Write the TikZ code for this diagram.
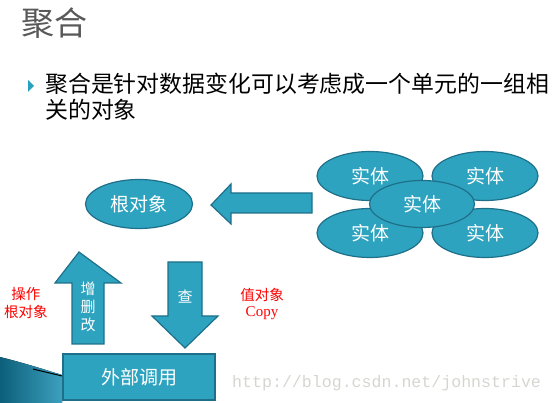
\documentclass[tikz,border=0pt]{standalone}
\usepackage{fontspec}
\setmainfont{Liberation Serif}
\newfontfamily\cjk{Noto Sans CJK SC}
\newfontfamily\cour{Liberation Mono}
\usetikzlibrary{shapes.geometric}
\definecolor{tealfill}{RGB}{46,163,191}
\definecolor{tealline}{RGB}{30,112,138}
\definecolor{titlegrey}{RGB}{89,89,89}
\definecolor{swdark}{RGB}{12,95,122}
\definecolor{swlight}{RGB}{60,160,190}
\definecolor{wmgrey}{RGB}{214,214,208}
\definecolor{bullet}{RGB}{40,160,190}
\begin{document}
\begin{tikzpicture}[x=1pt,y=-1pt,
  ent/.style={ellipse, draw=tealline, fill=tealfill, line width=1.2pt,
    minimum width=106pt, minimum height=49pt, inner sep=0pt,
    font=\cjk\fontsize{19}{19}\selectfont, text=white},
  arrowshape/.style={draw=tealline, fill=tealfill, line width=1.2pt, line join=miter},
  wtext/.style={text=white, inner sep=0pt, align=center},
  redlabel/.style={text=red, inner sep=0pt, align=center}]
\useasboundingbox (0,0) rectangle (555,403);
% bottom-left swoosh
\fill[left color=swdark, right color=swlight] (0,357) .. controls (20,362) and (40,368) .. (62,375) -- (62,403) -- (0,403) -- cycle;
\draw[black, line width=1pt] (33,369) .. controls (45,372) and (54,374) .. (62,376);
% title
\node[anchor=west, inner sep=0pt, text=titlegrey, font=\cjk\fontsize{33}{33}\selectfont] (title) at (21,23) {聚合};
% bullet
\fill[bullet] (28,80) -- (34,86) -- (28,92) -- cycle;
\node[anchor=west, inner sep=0pt, font=\cjk\fontsize{22.9}{22.9}\selectfont] (line1) at (45,84) {聚合是针对数据变化可以考虑成一个单元的一组相};
\node[anchor=west, inner sep=0pt, font=\cjk\fontsize{22.9}{22.9}\selectfont] (line2) at (45,110) {关的对象};
% root object
\node[ent, minimum width=107pt, minimum height=49pt] (root) at (139,204) {根对象};
% left arrow
\draw[arrowshape] (211,205) -- (231,184) -- (231,193) -- (312,193) -- (312,213) -- (231,213) -- (231,224) -- cycle;
% entities
\node[ent] (e1) at (370,176) {实体};
\node[ent] (e2) at (485,176) {实体};
\node[ent] (e3) at (370,233) {实体};
\node[ent] (e4) at (485,233) {实体};
\node[ent, minimum width=105pt, minimum height=47pt] (e0) at (422,204) {实体};
% up arrow
\draw[arrowshape] (79,252) -- (121,283) -- (104,283) -- (104,344) -- (72,344) -- (72,283) -- (55,283) -- cycle;
\node[wtext, font=\cjk\fontsize{15}{18}\selectfont] (add) at (88,307) {增\\删\\改};
% down arrow
\draw[arrowshape] (185,348) -- (218,316) -- (202,316) -- (202,262) -- (168,262) -- (168,316) -- (152,316) -- cycle;
\node[wtext, font=\cjk\fontsize{15}{15}\selectfont] (query) at (185,297) {查};
% external call box
\node[draw=tealline, fill=tealfill, line width=2pt, minimum width=152pt, minimum height=46pt, inner sep=0pt,
  text=white, font=\cjk\fontsize{19}{19}\selectfont] (ext) at (139,377) {外部调用};
% red labels
\node[redlabel, font=\cjk\fontsize{14.5}{18}\selectfont] (oplabel) at (26,303) {操作\\根对象};
\node[redlabel, font=\cjk\fontsize{14.5}{14.5}\selectfont] (vlabel) at (262,295) {值对象};
\node[redlabel, font=\fontsize{15}{15}\selectfont] (copy) at (262,313) {Copy};
% watermark
\node[anchor=west, inner sep=0pt, text=wmgrey, font=\cour\fontsize{16.6}{16.6}\selectfont] (wm) at (232,383) {http://blog.csdn.net/johnstrive};
\end{tikzpicture}
\end{document}
